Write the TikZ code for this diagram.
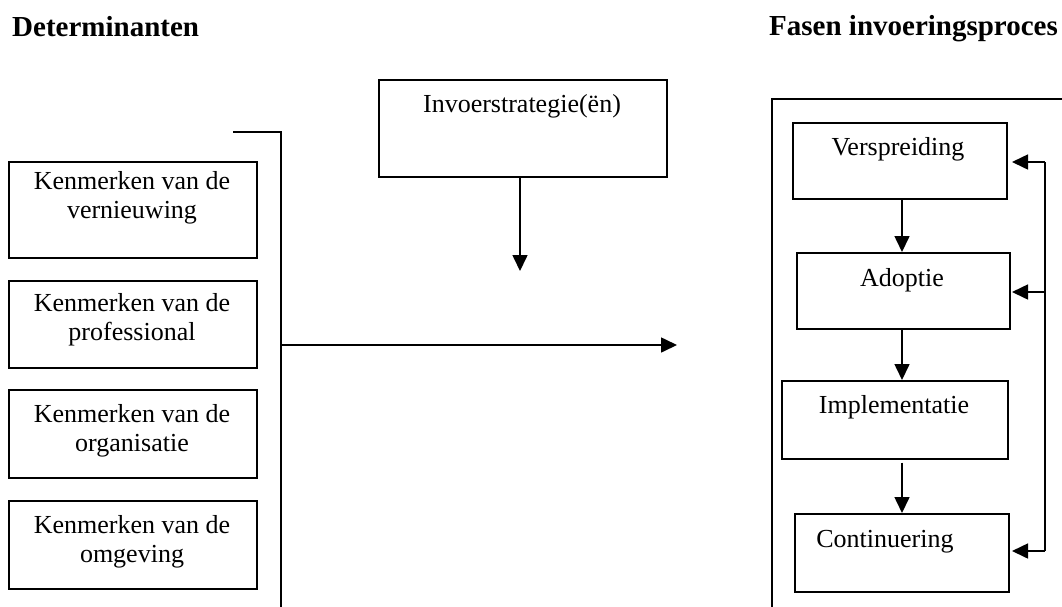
\documentclass[tikz,border=0pt]{standalone}
\usepackage{fontspec}
\setmainfont{Liberation Serif}
\usetikzlibrary{arrows.meta}
\begin{document}
\begin{tikzpicture}[x=1pt,y=-1pt,
  box/.style={draw, line width=1.6pt, inner sep=0pt, anchor=north west},
  txt/.style={inner sep=0pt, anchor=base, align=center, font=\fontsize{26}{28.5}\selectfont},
  ttl/.style={inner sep=0pt, anchor=base west, font=\fontsize{29}{33}\selectfont\bfseries},
  conn/.style={line width=1.6pt, -{Triangle[length=16pt,width=15pt]}},
  plain/.style={line width=1.6pt}]
\fill[white] (0,0) rectangle (1062,606);
\useasboundingbox (0,0) rectangle (1062,606);

% titles
\node[ttl] (tdet) at (12,36) {Determinanten};
\node[ttl] (tfas) at (769,35) {Fasen invoeringsproces};

% left boxes
\node[box, minimum width=248pt, minimum height=96pt] (b1) at (8,161) {};
\node[box, minimum width=248pt, minimum height=87pt] (b2) at (8,280) {};
\node[box, minimum width=248pt, minimum height=88pt] (b3) at (8,389) {};
\node[box, minimum width=248pt, minimum height=88pt] (b4) at (8,500) {};
\node[txt] (t1) at (132,218) {Kenmerken van de\\vernieuwing};
\node[txt] (t2) at (132,340) {Kenmerken van de\\professional};
\node[txt] (t3) at (132,451) {Kenmerken van de\\organisatie};
\node[txt] (t4) at (132,562) {Kenmerken van de\\omgeving};

% bracket and main arrow
\coordinate (br1) at (233,132);
\coordinate (br2) at (281,132);
\coordinate (br3) at (281,610);
\draw[plain] (br1) -- (br2) -- (br3);
\coordinate (hs) at (281,345);
\coordinate (he) at (677,345);
\draw[conn] (hs) -- (he);

% strategy box
\node[box, minimum width=288pt, minimum height=97pt] (inv) at (378,79) {};
\node[txt] (tinv) at (522,112) {Invoerstrategie(ën)};
\coordinate (is) at (520,176);
\coordinate (ie) at (520,271);
\draw[conn] (is) -- (ie);

% right frame
\coordinate (f1) at (1066,99);
\coordinate (f2) at (772,99);
\coordinate (f3) at (772,610);
\draw[plain] (f1) -- (f2) -- (f3);

% phase boxes
\node[box, minimum width=214pt, minimum height=76pt] (v) at (792,122) {};
\node[box, minimum width=213pt, minimum height=76pt] (a) at (796,252) {};
\node[box, minimum width=226pt, minimum height=78pt] (i) at (781,380) {};
\node[box, minimum width=214pt, minimum height=78pt] (c) at (794,513) {};
\node[txt] (tv) at (898,155) {Verspreiding};
\node[txt] (ta) at (902,286) {Adoptie};
\node[txt] (ti) at (894,413) {Implementatie};
\node[txt] (tc) at (885,547) {Continuering};

\coordinate (ax) at (902,0);
\draw[conn] (v.south -| ax) -- (a.north -| ax);
\draw[conn] (a.south -| ax) -- (i.north -| ax);
\draw[conn] ([yshift=-3pt]i.south -| ax) -- (c.north -| ax);

% feedback
\coordinate (fb1) at (1045,162);
\coordinate (fb2) at (1045,292);
\coordinate (fb3) at (1045,551);
\coordinate (fa1) at (1012,162);
\coordinate (fa2) at (1012,292);
\coordinate (fa3) at (1012,551);
\draw[plain] (fb1) -- (fb3);
\draw[conn] (fb1) -- (fa1);
\draw[conn] (fb2) -- (fa2);
\draw[conn] (fb3) -- (fa3);
\end{tikzpicture}
\end{document}
